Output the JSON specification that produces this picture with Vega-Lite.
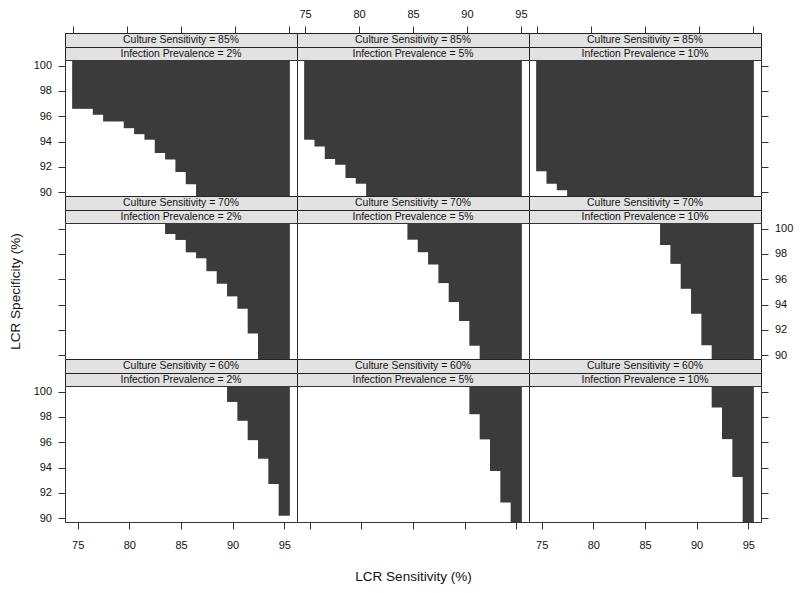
{
  "$schema": "https://vega.github.io/schema/vega-lite/v6.json",
  "background": "white",
  "padding": {"left": 7, "top": 7, "right": 5, "bottom": 5},
  "config": {
    "view": {"stroke": "#333", "strokeWidth": 1},
    "axis": {"domain": false, "grid": false, "tickColor": "#333", "tickSize": 7, "labelFont": "Liberation Sans", "labelFontSize": 11, "labelColor": "#111", "titleFont": "Liberation Sans", "titleFontSize": 13.5, "titleFontWeight": "normal", "titleColor": "#111"},
    "text": {"font": "Liberation Sans", "fontSize": 10.4, "color": "#111"},
    "bar": {"color": "#3b3b3b"}
  },
  "datasets": {
    "cells": [
      {"culture": "85%", "prevalence": "2%", "sens": 75, "spec_low": 96.59},
      {"culture": "85%", "prevalence": "2%", "sens": 76, "spec_low": 96.59},
      {"culture": "85%", "prevalence": "2%", "sens": 77, "spec_low": 96.12},
      {"culture": "85%", "prevalence": "2%", "sens": 78, "spec_low": 95.59},
      {"culture": "85%", "prevalence": "2%", "sens": 79, "spec_low": 95.59},
      {"culture": "85%", "prevalence": "2%", "sens": 80, "spec_low": 95.06},
      {"culture": "85%", "prevalence": "2%", "sens": 81, "spec_low": 94.59},
      {"culture": "85%", "prevalence": "2%", "sens": 82, "spec_low": 94.15},
      {"culture": "85%", "prevalence": "2%", "sens": 83, "spec_low": 93.1},
      {"culture": "85%", "prevalence": "2%", "sens": 84, "spec_low": 92.58},
      {"culture": "85%", "prevalence": "2%", "sens": 85, "spec_low": 91.6},
      {"culture": "85%", "prevalence": "2%", "sens": 86, "spec_low": 90.63},
      {"culture": "85%", "prevalence": "2%", "sens": 87, "spec_low": 89.7},
      {"culture": "85%", "prevalence": "2%", "sens": 88, "spec_low": 89.7},
      {"culture": "85%", "prevalence": "2%", "sens": 89, "spec_low": 89.7},
      {"culture": "85%", "prevalence": "2%", "sens": 90, "spec_low": 89.7},
      {"culture": "85%", "prevalence": "2%", "sens": 91, "spec_low": 89.7},
      {"culture": "85%", "prevalence": "2%", "sens": 92, "spec_low": 89.7},
      {"culture": "85%", "prevalence": "2%", "sens": 93, "spec_low": 89.7},
      {"culture": "85%", "prevalence": "2%", "sens": 94, "spec_low": 89.7},
      {"culture": "85%", "prevalence": "2%", "sens": 95, "spec_low": 89.7},

      {"culture": "85%", "prevalence": "5%", "sens": 75, "spec_low": 94.15},
      {"culture": "85%", "prevalence": "5%", "sens": 76, "spec_low": 93.62},
      {"culture": "85%", "prevalence": "5%", "sens": 77, "spec_low": 92.63},
      {"culture": "85%", "prevalence": "5%", "sens": 78, "spec_low": 92.18},
      {"culture": "85%", "prevalence": "5%", "sens": 79, "spec_low": 91.13},
      {"culture": "85%", "prevalence": "5%", "sens": 80, "spec_low": 90.66},
      {"culture": "85%", "prevalence": "5%", "sens": 81, "spec_low": 89.7},
      {"culture": "85%", "prevalence": "5%", "sens": 82, "spec_low": 89.7},
      {"culture": "85%", "prevalence": "5%", "sens": 83, "spec_low": 89.7},
      {"culture": "85%", "prevalence": "5%", "sens": 84, "spec_low": 89.7},
      {"culture": "85%", "prevalence": "5%", "sens": 85, "spec_low": 89.7},
      {"culture": "85%", "prevalence": "5%", "sens": 86, "spec_low": 89.7},
      {"culture": "85%", "prevalence": "5%", "sens": 87, "spec_low": 89.7},
      {"culture": "85%", "prevalence": "5%", "sens": 88, "spec_low": 89.7},
      {"culture": "85%", "prevalence": "5%", "sens": 89, "spec_low": 89.7},
      {"culture": "85%", "prevalence": "5%", "sens": 90, "spec_low": 89.7},
      {"culture": "85%", "prevalence": "5%", "sens": 91, "spec_low": 89.7},
      {"culture": "85%", "prevalence": "5%", "sens": 92, "spec_low": 89.7},
      {"culture": "85%", "prevalence": "5%", "sens": 93, "spec_low": 89.7},
      {"culture": "85%", "prevalence": "5%", "sens": 94, "spec_low": 89.7},
      {"culture": "85%", "prevalence": "5%", "sens": 95, "spec_low": 89.7},

      {"culture": "85%", "prevalence": "10%", "sens": 75, "spec_low": 91.65},
      {"culture": "85%", "prevalence": "10%", "sens": 76, "spec_low": 90.66},
      {"culture": "85%", "prevalence": "10%", "sens": 77, "spec_low": 90.16},
      {"culture": "85%", "prevalence": "10%", "sens": 78, "spec_low": 89.7},
      {"culture": "85%", "prevalence": "10%", "sens": 79, "spec_low": 89.7},
      {"culture": "85%", "prevalence": "10%", "sens": 80, "spec_low": 89.7},
      {"culture": "85%", "prevalence": "10%", "sens": 81, "spec_low": 89.7},
      {"culture": "85%", "prevalence": "10%", "sens": 82, "spec_low": 89.7},
      {"culture": "85%", "prevalence": "10%", "sens": 83, "spec_low": 89.7},
      {"culture": "85%", "prevalence": "10%", "sens": 84, "spec_low": 89.7},
      {"culture": "85%", "prevalence": "10%", "sens": 85, "spec_low": 89.7},
      {"culture": "85%", "prevalence": "10%", "sens": 86, "spec_low": 89.7},
      {"culture": "85%", "prevalence": "10%", "sens": 87, "spec_low": 89.7},
      {"culture": "85%", "prevalence": "10%", "sens": 88, "spec_low": 89.7},
      {"culture": "85%", "prevalence": "10%", "sens": 89, "spec_low": 89.7},
      {"culture": "85%", "prevalence": "10%", "sens": 90, "spec_low": 89.7},
      {"culture": "85%", "prevalence": "10%", "sens": 91, "spec_low": 89.7},
      {"culture": "85%", "prevalence": "10%", "sens": 92, "spec_low": 89.7},
      {"culture": "85%", "prevalence": "10%", "sens": 93, "spec_low": 89.7},
      {"culture": "85%", "prevalence": "10%", "sens": 94, "spec_low": 89.7},
      {"culture": "85%", "prevalence": "10%", "sens": 95, "spec_low": 89.7},

      {"culture": "70%", "prevalence": "2%", "sens": 84, "spec_low": 99.58},
      {"culture": "70%", "prevalence": "2%", "sens": 85, "spec_low": 99.11},
      {"culture": "70%", "prevalence": "2%", "sens": 86, "spec_low": 98.13},
      {"culture": "70%", "prevalence": "2%", "sens": 87, "spec_low": 97.66},
      {"culture": "70%", "prevalence": "2%", "sens": 88, "spec_low": 96.64},
      {"culture": "70%", "prevalence": "2%", "sens": 89, "spec_low": 95.65},
      {"culture": "70%", "prevalence": "2%", "sens": 90, "spec_low": 94.65},
      {"culture": "70%", "prevalence": "2%", "sens": 91, "spec_low": 93.68},
      {"culture": "70%", "prevalence": "2%", "sens": 92, "spec_low": 91.71},
      {"culture": "70%", "prevalence": "2%", "sens": 93, "spec_low": 89.7},
      {"culture": "70%", "prevalence": "2%", "sens": 94, "spec_low": 89.7},
      {"culture": "70%", "prevalence": "2%", "sens": 95, "spec_low": 89.7},

      {"culture": "70%", "prevalence": "5%", "sens": 85, "spec_low": 99.13},
      {"culture": "70%", "prevalence": "5%", "sens": 86, "spec_low": 98.14},
      {"culture": "70%", "prevalence": "5%", "sens": 87, "spec_low": 97.17},
      {"culture": "70%", "prevalence": "5%", "sens": 88, "spec_low": 95.7},
      {"culture": "70%", "prevalence": "5%", "sens": 89, "spec_low": 94.2},
      {"culture": "70%", "prevalence": "5%", "sens": 90, "spec_low": 92.7},
      {"culture": "70%", "prevalence": "5%", "sens": 91, "spec_low": 90.74},
      {"culture": "70%", "prevalence": "5%", "sens": 92, "spec_low": 89.7},
      {"culture": "70%", "prevalence": "5%", "sens": 93, "spec_low": 89.7},
      {"culture": "70%", "prevalence": "5%", "sens": 94, "spec_low": 89.7},
      {"culture": "70%", "prevalence": "5%", "sens": 95, "spec_low": 89.7},

      {"culture": "70%", "prevalence": "10%", "sens": 87, "spec_low": 98.71},
      {"culture": "70%", "prevalence": "10%", "sens": 88, "spec_low": 97.22},
      {"culture": "70%", "prevalence": "10%", "sens": 89, "spec_low": 95.25},
      {"culture": "70%", "prevalence": "10%", "sens": 90, "spec_low": 93.28},
      {"culture": "70%", "prevalence": "10%", "sens": 91, "spec_low": 90.79},
      {"culture": "70%", "prevalence": "10%", "sens": 92, "spec_low": 89.7},
      {"culture": "70%", "prevalence": "10%", "sens": 93, "spec_low": 89.7},
      {"culture": "70%", "prevalence": "10%", "sens": 94, "spec_low": 89.7},
      {"culture": "70%", "prevalence": "10%", "sens": 95, "spec_low": 89.7},

      {"culture": "60%", "prevalence": "2%", "sens": 90, "spec_low": 99.19},
      {"culture": "60%", "prevalence": "2%", "sens": 91, "spec_low": 97.7},
      {"culture": "60%", "prevalence": "2%", "sens": 92, "spec_low": 96.17},
      {"culture": "60%", "prevalence": "2%", "sens": 93, "spec_low": 94.7},
      {"culture": "60%", "prevalence": "2%", "sens": 94, "spec_low": 92.71},
      {"culture": "60%", "prevalence": "2%", "sens": 95, "spec_low": 90.19},

      {"culture": "60%", "prevalence": "5%", "sens": 91, "spec_low": 98.22},
      {"culture": "60%", "prevalence": "5%", "sens": 92, "spec_low": 96.23},
      {"culture": "60%", "prevalence": "5%", "sens": 93, "spec_low": 93.73},
      {"culture": "60%", "prevalence": "5%", "sens": 94, "spec_low": 91.24},
      {"culture": "60%", "prevalence": "5%", "sens": 95, "spec_low": 89.7},

      {"culture": "60%", "prevalence": "10%", "sens": 92, "spec_low": 98.75},
      {"culture": "60%", "prevalence": "10%", "sens": 93, "spec_low": 96.25},
      {"culture": "60%", "prevalence": "10%", "sens": 94, "spec_low": 93.26},
      {"culture": "60%", "prevalence": "10%", "sens": 95, "spec_low": 89.7}
    ]
  },
  "columns": 3,
  "spacing": 0,
  "bounds": "flush",
  "concat": [
    {"width": 232, "height": 14, "data": {"values": [{"label": "Culture Sensitivity = 85%"}]}, "view": {"fill": "#e2e2e2", "stroke": "#222"}, "mark": "text",
     "encoding": {"text": {"field": "label", "type": "nominal"}, "x": {"datum": 85, "type": "quantitative", "scale": {"domain": [74.25, 95.75]}, "axis": {"orient": "top", "values": [75, 80, 85, 90, 95], "labels": false, "title": null}}}},
    {"width": 232, "height": 14, "data": {"values": [{"label": "Culture Sensitivity = 85%"}]}, "view": {"fill": "#e2e2e2", "stroke": "#222"}, "mark": "text",
     "encoding": {"text": {"field": "label", "type": "nominal"}, "x": {"datum": 85, "type": "quantitative", "scale": {"domain": [74.25, 95.75]}, "axis": {"orient": "top", "values": [75, 80, 85, 90, 95], "labelPadding": 7, "title": null}}}},
    {"width": 232, "height": 14, "data": {"values": [{"label": "Culture Sensitivity = 85%"}]}, "view": {"fill": "#e2e2e2", "stroke": "#222"}, "mark": "text",
     "encoding": {"text": {"field": "label", "type": "nominal"}, "x": {"datum": 85, "type": "quantitative", "scale": {"domain": [74.25, 95.75]}, "axis": {"orient": "top", "values": [75, 80, 85, 90, 95], "labels": false, "title": null}}}},
    {"width": 232, "height": 13, "data": {"values": [{"label": "Infection Prevalence = 2%"}]}, "view": {"fill": "#e2e2e2", "stroke": "#222"}, "mark": "text", "encoding": {"text": {"field": "label", "type": "nominal"}}},
    {"width": 232, "height": 13, "data": {"values": [{"label": "Infection Prevalence = 5%"}]}, "view": {"fill": "#e2e2e2", "stroke": "#222"}, "mark": "text", "encoding": {"text": {"field": "label", "type": "nominal"}}},
    {"width": 232, "height": 13, "data": {"values": [{"label": "Infection Prevalence = 10%"}]}, "view": {"fill": "#e2e2e2", "stroke": "#222"}, "mark": "text", "encoding": {"text": {"field": "label", "type": "nominal"}}},
    {"width": 232, "height": 136, "data": {"name": "cells"}, "transform": [{"filter": "datum.culture == '85%' && datum.prevalence == '2%'"}],
     "mark": {"type": "bar", "width": 11.2, "clip": true},
     "encoding": {"x": {"field": "sens", "type": "quantitative", "scale": {"domain": [74.25, 95.75]}, "axis": null},
                  "y": {"field": "spec_low", "type": "quantitative", "scale": {"domain": [89.7, 100.45]}, "axis": {"orient": "left", "values": [90, 92, 94, 96, 98, 100], "labelPadding": 6.5, "title": null}},
                  "y2": {"datum": 100.45}}},
    {"width": 232, "height": 136, "data": {"name": "cells"}, "transform": [{"filter": "datum.culture == '85%' && datum.prevalence == '5%'"}],
     "mark": {"type": "bar", "width": 11.2, "clip": true},
     "encoding": {"x": {"field": "sens", "type": "quantitative", "scale": {"domain": [74.25, 95.75]}, "axis": null},
                  "y": {"field": "spec_low", "type": "quantitative", "scale": {"domain": [89.7, 100.45]}, "axis": null},
                  "y2": {"datum": 100.45}}},
    {"width": 232, "height": 136, "data": {"name": "cells"}, "transform": [{"filter": "datum.culture == '85%' && datum.prevalence == '10%'"}],
     "mark": {"type": "bar", "width": 11.2, "clip": true},
     "encoding": {"x": {"field": "sens", "type": "quantitative", "scale": {"domain": [74.25, 95.75]}, "axis": null},
                  "y": {"field": "spec_low", "type": "quantitative", "scale": {"domain": [89.7, 100.45]}, "axis": {"orient": "right", "values": [90, 92, 94, 96, 98, 100], "labels": false, "title": null}},
                  "y2": {"datum": 100.45}}},

    {"width": 232, "height": 14, "data": {"values": [{"label": "Culture Sensitivity = 70%"}]}, "view": {"fill": "#e2e2e2", "stroke": "#222"}, "mark": "text", "encoding": {"text": {"field": "label", "type": "nominal"}}},
    {"width": 232, "height": 14, "data": {"values": [{"label": "Culture Sensitivity = 70%"}]}, "view": {"fill": "#e2e2e2", "stroke": "#222"}, "mark": "text", "encoding": {"text": {"field": "label", "type": "nominal"}}},
    {"width": 232, "height": 14, "data": {"values": [{"label": "Culture Sensitivity = 70%"}]}, "view": {"fill": "#e2e2e2", "stroke": "#222"}, "mark": "text", "encoding": {"text": {"field": "label", "type": "nominal"}}},
    {"width": 232, "height": 13, "data": {"values": [{"label": "Infection Prevalence = 2%"}]}, "view": {"fill": "#e2e2e2", "stroke": "#222"}, "mark": "text", "encoding": {"text": {"field": "label", "type": "nominal"}}},
    {"width": 232, "height": 13, "data": {"values": [{"label": "Infection Prevalence = 5%"}]}, "view": {"fill": "#e2e2e2", "stroke": "#222"}, "mark": "text", "encoding": {"text": {"field": "label", "type": "nominal"}}},
    {"width": 232, "height": 13, "data": {"values": [{"label": "Infection Prevalence = 10%"}]}, "view": {"fill": "#e2e2e2", "stroke": "#222"}, "mark": "text", "encoding": {"text": {"field": "label", "type": "nominal"}}},
    {"width": 232, "height": 136, "data": {"name": "cells"}, "transform": [{"filter": "datum.culture == '70%' && datum.prevalence == '2%'"}],
     "mark": {"type": "bar", "width": 11.2, "clip": true},
     "encoding": {"x": {"field": "sens", "type": "quantitative", "scale": {"domain": [74.25, 95.75]}, "axis": null},
                  "y": {"field": "spec_low", "type": "quantitative", "scale": {"domain": [89.7, 100.45]}, "axis": {"orient": "left", "values": [90, 92, 94, 96, 98, 100], "labels": false, "title": "LCR Specificity (%)", "titlePadding": 35.5}},
                  "y2": {"datum": 100.45}}},
    {"width": 232, "height": 136, "data": {"name": "cells"}, "transform": [{"filter": "datum.culture == '70%' && datum.prevalence == '5%'"}],
     "mark": {"type": "bar", "width": 11.2, "clip": true},
     "encoding": {"x": {"field": "sens", "type": "quantitative", "scale": {"domain": [74.25, 95.75]}, "axis": null},
                  "y": {"field": "spec_low", "type": "quantitative", "scale": {"domain": [89.7, 100.45]}, "axis": null},
                  "y2": {"datum": 100.45}}},
    {"width": 232, "height": 136, "data": {"name": "cells"}, "transform": [{"filter": "datum.culture == '70%' && datum.prevalence == '10%'"}],
     "mark": {"type": "bar", "width": 11.2, "clip": true},
     "encoding": {"x": {"field": "sens", "type": "quantitative", "scale": {"domain": [74.25, 95.75]}, "axis": null},
                  "y": {"field": "spec_low", "type": "quantitative", "scale": {"domain": [89.7, 100.45]}, "axis": {"orient": "right", "values": [90, 92, 94, 96, 98, 100], "labelPadding": 6.5, "title": null}},
                  "y2": {"datum": 100.45}}},

    {"width": 232, "height": 14, "data": {"values": [{"label": "Culture Sensitivity = 60%"}]}, "view": {"fill": "#e2e2e2", "stroke": "#222"}, "mark": "text", "encoding": {"text": {"field": "label", "type": "nominal"}}},
    {"width": 232, "height": 14, "data": {"values": [{"label": "Culture Sensitivity = 60%"}]}, "view": {"fill": "#e2e2e2", "stroke": "#222"}, "mark": "text", "encoding": {"text": {"field": "label", "type": "nominal"}}},
    {"width": 232, "height": 14, "data": {"values": [{"label": "Culture Sensitivity = 60%"}]}, "view": {"fill": "#e2e2e2", "stroke": "#222"}, "mark": "text", "encoding": {"text": {"field": "label", "type": "nominal"}}},
    {"width": 232, "height": 13, "data": {"values": [{"label": "Infection Prevalence = 2%"}]}, "view": {"fill": "#e2e2e2", "stroke": "#222"}, "mark": "text", "encoding": {"text": {"field": "label", "type": "nominal"}}},
    {"width": 232, "height": 13, "data": {"values": [{"label": "Infection Prevalence = 5%"}]}, "view": {"fill": "#e2e2e2", "stroke": "#222"}, "mark": "text", "encoding": {"text": {"field": "label", "type": "nominal"}}},
    {"width": 232, "height": 13, "data": {"values": [{"label": "Infection Prevalence = 10%"}]}, "view": {"fill": "#e2e2e2", "stroke": "#222"}, "mark": "text", "encoding": {"text": {"field": "label", "type": "nominal"}}},
    {"width": 232, "height": 136, "data": {"name": "cells"}, "transform": [{"filter": "datum.culture == '60%' && datum.prevalence == '2%'"}],
     "mark": {"type": "bar", "width": 11.2, "clip": true},
     "encoding": {"x": {"field": "sens", "type": "quantitative", "scale": {"domain": [74.25, 95.75]}, "axis": {"orient": "bottom", "values": [75, 80, 85, 90, 95], "labelPadding": 10.5, "title": null}},
                  "y": {"field": "spec_low", "type": "quantitative", "scale": {"domain": [89.7, 100.45]}, "axis": {"orient": "left", "values": [90, 92, 94, 96, 98, 100], "labelPadding": 6.5, "title": null}},
                  "y2": {"datum": 100.45}}},
    {"width": 232, "height": 136, "data": {"name": "cells"}, "transform": [{"filter": "datum.culture == '60%' && datum.prevalence == '5%'"}],
     "mark": {"type": "bar", "width": 11.2, "clip": true},
     "encoding": {"x": {"field": "sens", "type": "quantitative", "scale": {"domain": [74.25, 95.75]}, "axis": {"orient": "bottom", "values": [75, 80, 85, 90, 95], "labels": false, "title": "LCR Sensitivity (%)", "titlePadding": 40}},
                  "y": {"field": "spec_low", "type": "quantitative", "scale": {"domain": [89.7, 100.45]}, "axis": null},
                  "y2": {"datum": 100.45}}},
    {"width": 232, "height": 136, "data": {"name": "cells"}, "transform": [{"filter": "datum.culture == '60%' && datum.prevalence == '10%'"}],
     "mark": {"type": "bar", "width": 11.2, "clip": true},
     "encoding": {"x": {"field": "sens", "type": "quantitative", "scale": {"domain": [74.25, 95.75]}, "axis": {"orient": "bottom", "values": [75, 80, 85, 90, 95], "labelPadding": 10.5, "title": null}},
                  "y": {"field": "spec_low", "type": "quantitative", "scale": {"domain": [89.7, 100.45]}, "axis": {"orient": "right", "values": [90, 92, 94, 96, 98, 100], "labels": false, "title": null}},
                  "y2": {"datum": 100.45}}}
  ]
}
